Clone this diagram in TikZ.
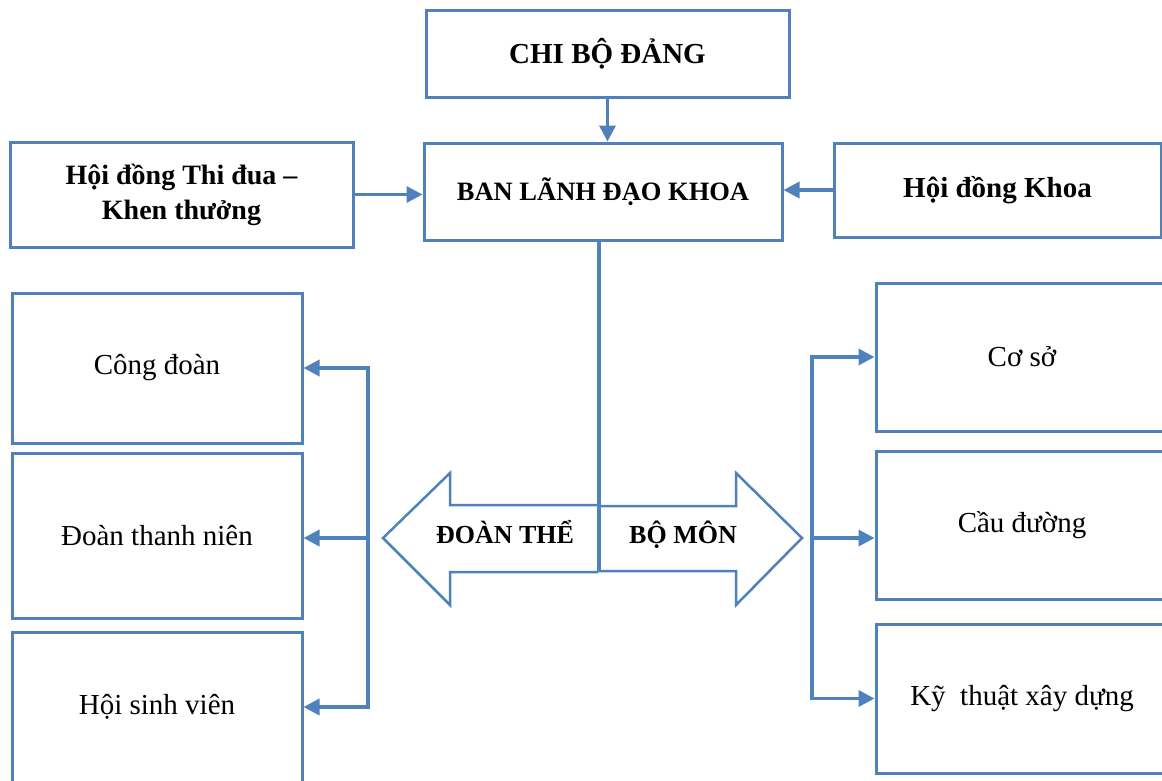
\documentclass[tikz,border=0pt]{standalone}
\usepackage{fontspec}
\setmainfont{Liberation Serif}
\usetikzlibrary{arrows.meta}
\definecolor{boxblue}{RGB}{79,129,189}

\begin{document}
\begin{tikzpicture}[x=1pt,y=-1pt,
  box/.style={draw=boxblue,line width=3pt,inner sep=0pt,align=center,font=\fontsize{29}{35}\selectfont},
  conn/.style={draw=boxblue,line width=3.5pt,-{Triangle[length=16pt,width=16pt]}},
  bigarrow/.style={draw=boxblue,line width=2.5pt,line join=miter}]
\useasboundingbox (0,0) rectangle (1162,780);
% upper part
\node[box,minimum width=363pt,minimum height=87pt] (chibo) at (607.5,53.5) {\bfseries CHI BỘ ĐẢNG};
\node[box,minimum width=358pt,minimum height=97pt,font=\fontsize{26.5}{32}\selectfont\bfseries] (ban) at (603,191.5) {BAN LÃNH ĐẠO KHOA};
\node[box,minimum width=343pt,minimum height=105pt,font=\fontsize{28}{35}\selectfont\bfseries] (hdtd) at (181.5,194.5) {\rule{0pt}{12pt}Hội đồng Thi đua –\\Khen thưởng};
\node[box,minimum width=327pt,minimum height=94pt] (hdk) at (997.5,190) {\bfseries Hội đồng Khoa};
\draw[conn] (chibo.south) -- (chibo.south |- ban.north);
\draw[conn] (hdtd.east) -- (hdtd.east -| ban.west);
\draw[conn] (hdk.west) -- (hdk.west -| ban.east);
% double arrow
\coordinate (mid) at (599,572);
\draw[bigarrow] (598,505) -- (450,505) -- (450,473) -- (383,538) -- (450,605) -- (450,572) -- (598,572);
\draw[bigarrow] (598,506) -- (736,506) -- (736,473) -- (802,538) -- (736,605) -- (736,571) -- (598,571);
\draw[draw=boxblue,line width=4pt] (ban.south -| mid) -- (mid);
\node[font=\fontsize{26}{30}\selectfont\bfseries] (doanthe) at (505,532) {ĐOÀN THỂ};
\node[font=\fontsize{26}{30}\selectfont\bfseries] (bomon) at (683,535) {BỘ MÔN};
% left column
\node[box,minimum width=290pt,minimum height=150pt] (congdoan) at (157,368) {\rule{0pt}{8pt}Công đoàn};
\node[box,minimum width=290pt,minimum height=165pt] (doantn) at (157,535.5) {\rule{0pt}{8pt}Đoàn thanh niên};
\node[box,minimum width=290pt,minimum height=150pt] (hoisv) at (157,707) {\rule{0pt}{8pt}Hội sinh viên};
\coordinate (lbar) at (368,538);
\draw[conn] (lbar) |- (congdoan.east);
\draw[conn] (lbar) -- (doantn.east |- lbar);
\draw[conn] (lbar) |- (hoisv.east);
% right column
\node[box,minimum width=292pt,minimum height=148pt] (coso) at (1022,357) {Cơ sở};
\node[box,minimum width=292pt,minimum height=148pt] (cauduong) at (1022,525) {Cầu đường};
\node[box,minimum width=292pt,minimum height=149pt] (ktxd) at (1022,698.5) {Kỹ~ thuật xây dựng};
\coordinate (rbar) at (812,538);
\draw[conn] (rbar) |- (coso.west);
\draw[conn] (rbar) -- (cauduong.west |- rbar);
\draw[conn] (rbar) |- (ktxd.west);
\end{tikzpicture}
\end{document}
